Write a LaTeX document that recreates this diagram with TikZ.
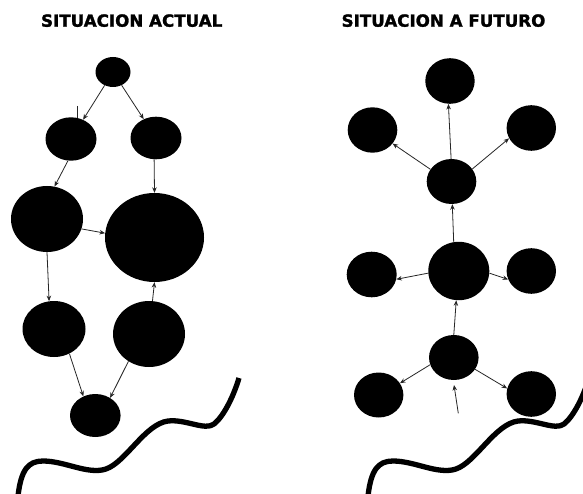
\documentclass[tikz,border=0pt]{standalone}
\usepackage{fontspec}
\newfontfamily\titlefont[BoldFeatures={FakeBold=1.6}]{DejaVu Sans}
\usetikzlibrary{shapes.geometric,arrows.meta}
\tikzset{
  blob/.style={ellipse,fill=black,draw=none,inner sep=0pt},
  arr/.style={draw=black!85,line width=0.8pt,-{Stealth[length=5.5pt,width=4.5pt]}},
  wave/.style={line width=5.3pt,black},
  ttl/.style={font=\titlefont\bfseries\fontsize{16.7}{16.7}\selectfont,anchor=base,inner sep=0pt}
}
\begin{document}
\begin{tikzpicture}[x=1pt,y=-1pt]
\useasboundingbox (0,0) rectangle (583,494);
\fill[white] (0,0) rectangle (583,494);
% titles
\node[ttl] (t1) at (131.7,26.7) {SITUACION ACTUAL};
\node[ttl] (t2) at (443.5,26.7) {SITUACION A FUTURO};
% left nodes
\node[blob,minimum width=35pt,minimum height=30pt] (a) at (113,72) {};
\node[blob,minimum width=51pt,minimum height=43.4pt] (b) at (71,139) {};
\node[blob,minimum width=51pt,minimum height=42.6pt] (c) at (156,138) {};
\node[blob,minimum width=72pt,minimum height=66pt] (d) at (47,219) {};
\node[blob,minimum width=99pt,minimum height=89pt] (e) at (154.5,237.5) {};
\node[blob,minimum width=63pt,minimum height=56pt] (f) at (54,329) {};
\node[blob,minimum width=72pt,minimum height=66pt] (g) at (149,334) {};
\node[blob,minimum width=50.6pt,minimum height=43pt] (h) at (95.3,415.5) {};
% left connectors
\draw[arr] (a) -- (b);
\draw[arr] (a) -- (c);
\draw[arr] (b.-98) -- (d.77);
\draw[arr] (c.-95) -- (e.90);
\draw[arr] (d.-16) -- (e.175);
\draw[arr] (d.-90) -- (f.100);
\draw[arr] (g.84) -- (e.-90);
\draw[arr] (f.-58) -- (h.122);
\draw[arr] (g.-127) -- (h.50);
\coordinate (k1) at (77.7,106);
\coordinate (k2) at (77.7,118);
\draw[black!85,line width=0.8pt] (k1) -- (k2);
% right nodes
\node[blob,minimum width=49.4pt,minimum height=45.6pt] (p) at (450,81) {};
\node[blob,minimum width=49.6pt,minimum height=45.4pt] (q) at (372.5,130) {};
\node[blob,minimum width=49.4pt,minimum height=45.6pt] (r) at (531.3,128) {};
\node[blob,minimum width=49.6pt,minimum height=45pt] (s) at (451.5,181.5) {};
\node[blob,minimum width=61pt,minimum height=58.4pt] (u) at (458.8,271) {};
\node[blob,minimum width=50pt,minimum height=45.6pt] (v) at (371.7,274.5) {};
\node[blob,minimum width=49.4pt,minimum height=45.6pt] (w) at (531.3,271) {};
\node[blob,minimum width=49.6pt,minimum height=45pt] (x) at (453.8,357.5) {};
\node[blob,minimum width=49.4pt,minimum height=45pt] (y) at (378.7,395) {};
\node[blob,minimum width=49.4pt,minimum height=45.6pt] (z) at (531.3,394) {};
% right connectors
\draw[arr] (s.91) -- (p.-94);
\draw[arr] (s.150) -- (q.-34);
\draw[arr] (s.31) -- (r.205);
\draw[arr] (u.100) -- (s.-88);
\draw[arr] (u.184) -- (v.-11);
\draw[arr] (u.-4) -- (w.200);
\draw[arr] (x.90) -- (u.-95);
\draw[arr] (x.197) -- (y.29);
\draw[arr] (x.-29) -- (z.167);
\coordinate (m1) at (458.3,413.3);
\coordinate (m2) at (454,385);
\draw[arr] (m1) -- (m2);
% waves
\begin{scope}
\clip (0,0) rectangle (583,494);
\foreach \dx in {0,350}{
\draw[wave,xshift=\dx pt] (18,496) .. controls (21,470) and (28,461) .. (43,461)
  .. controls (65,461) and (88,475) .. (106,469)
  .. controls (126,462) and (145,424) .. (168,421)
  .. controls (186,419) and (205,431) .. (214,424)
  .. controls (223,417) and (233,398) .. (239,378);
}
\end{scope}
\end{tikzpicture}
\end{document}
